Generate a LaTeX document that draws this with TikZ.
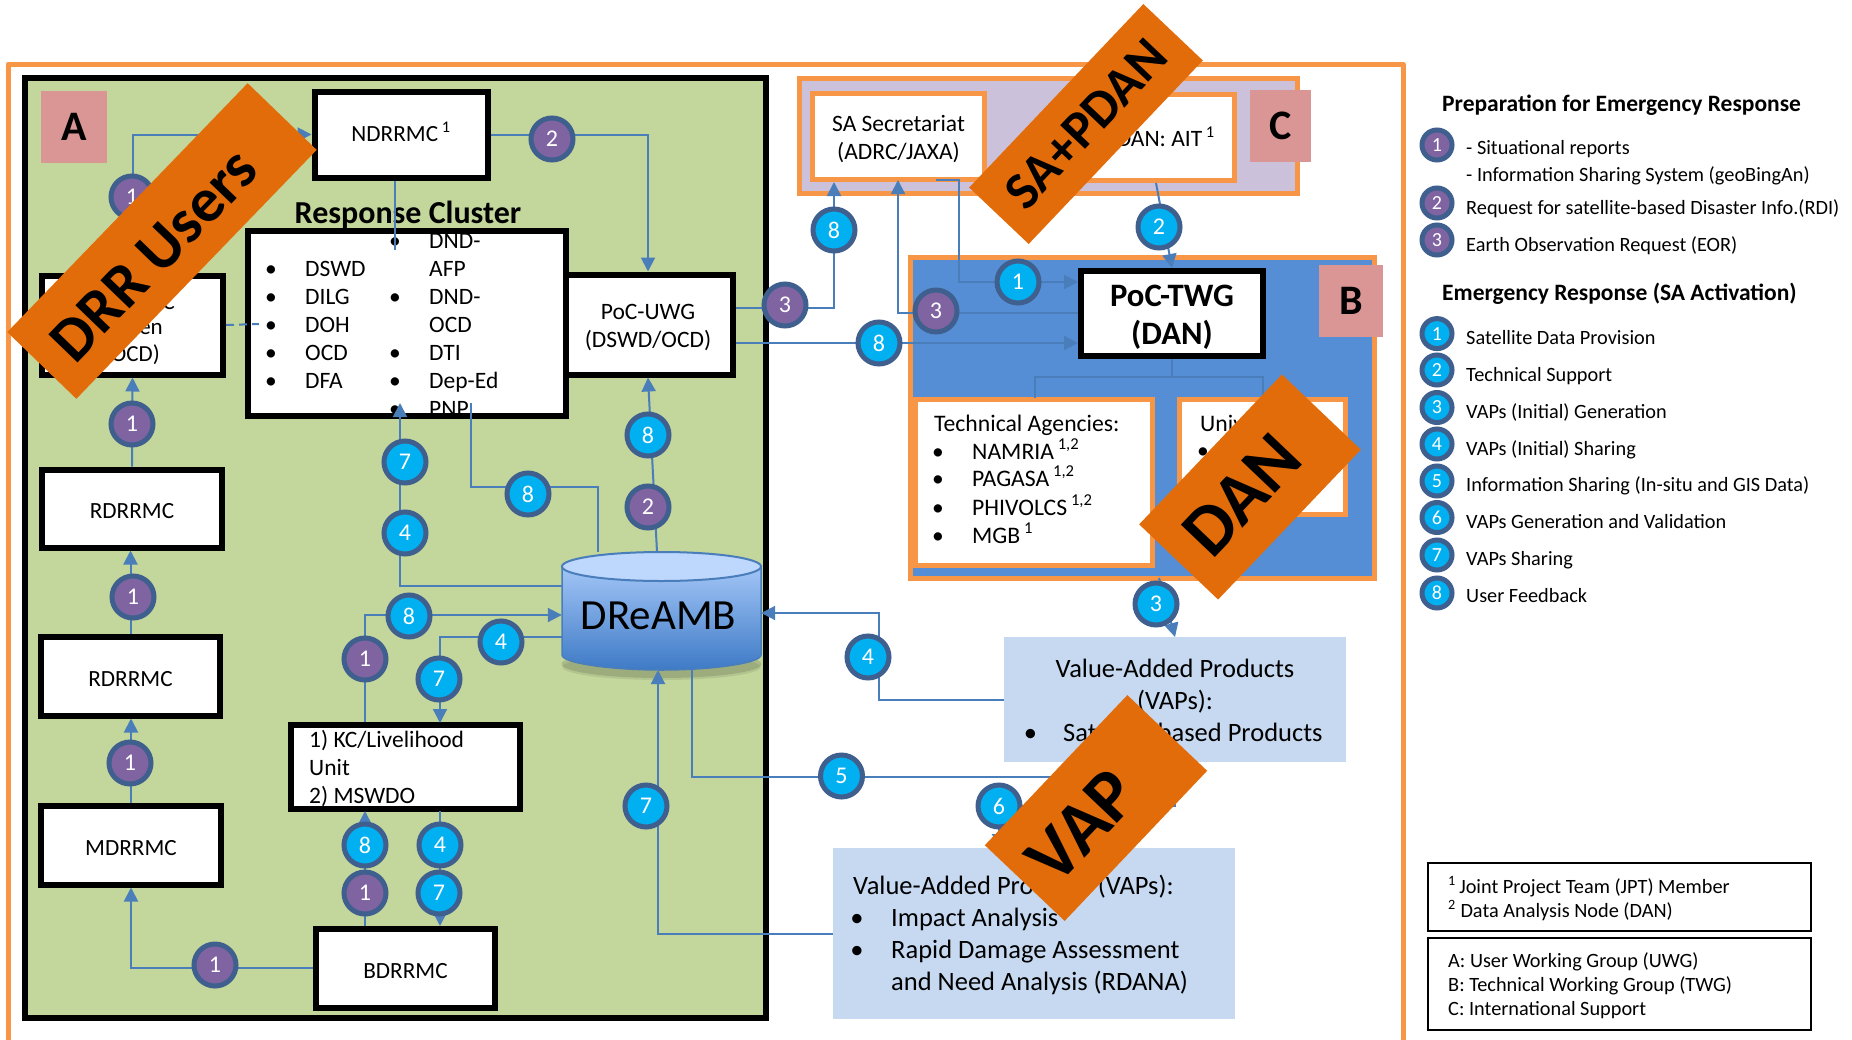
\documentclass[tikz,border=0pt]{standalone}
\usepackage{fontspec}
\setmainfont{Carlito}
\usetikzlibrary{arrows.meta,calc}
\definecolor{orangeline}{HTML}{F79646}
\definecolor{panelgreen}{HTML}{C3D69B}
\definecolor{pinklabel}{HTML}{D99694}
\definecolor{lilac}{HTML}{CCC1DA}
\definecolor{midblue}{HTML}{558ED5}
\definecolor{paleblue}{HTML}{C6D9F1}
\definecolor{lineblue}{HTML}{4A7EBB}
\definecolor{ringblue}{HTML}{3F5F8E}
\definecolor{purplefill}{HTML}{8064A2}
\definecolor{cyanfill}{HTML}{00B0F0}
\definecolor{bannerorange}{HTML}{E36C0A}
\definecolor{cyltop}{HTML}{A3C6F7}
\definecolor{cylbot}{HTML}{3E7AC6}
\definecolor{cylcap}{HTML}{BED7FD}
\newcommand{\fs}[1]{\fontsize{#1}{#1}\selectfont}
\tikzset{
  x=1pt,y=-1pt,
  wbox/.style={draw=black,line width=6pt,fill=white,inner sep=0pt,align=center,font=\fs{23.2}},
  lower/.style={text height=20pt,text depth=0pt},
  obox/.style={draw=orangeline,line width=5pt,fill=white,inner sep=0pt},
  tagbox/.style={fill=pinklabel,inner sep=0pt,font=\bfseries\fs{42}},
  con/.style={draw=lineblue,line width=2pt},
  arr/.style={con,-{Triangle[width=14pt,length=14pt]}},
  pbadge/.style={circle,draw=ringblue,line width=5pt,fill=purplefill,text=white,minimum size=42pt,inner sep=0pt,font=\fs{24}},
  cbadge/.style={circle,draw=ringblue,line width=5pt,fill=cyanfill,text=white,minimum size=42pt,inner sep=0pt,font=\fs{24}},
  lpbadge/.style={pbadge,minimum size=30pt,font=\fs{20}},
  lcbadge/.style={cbadge,minimum size=30pt,font=\fs{20}},
  t23/.style={inner sep=0pt,anchor=west,font=\fs{23.5},text height=18pt,text depth=2pt},
  t24/.style={inner sep=0pt,anchor=west,font=\fs{26.5},text height=19.5pt,text depth=2.5pt},
  t19/.style={inner sep=0pt,anchor=west,font=\fs{20.3},text height=15pt,text depth=2pt},
  th/.style={inner sep=0pt,anchor=west,font=\bfseries\fs{23.5},text height=19pt,text depth=3pt},
  mltext/.style={inner sep=0pt,align=center},
  banner/.style={fill=bannerorange,inner sep=0pt},
}
\begin{document}
\begin{tikzpicture}
\useasboundingbox (0,0) rectangle (1852,1039);
\clip (0,0) rectangle (1852,1039);
% frames
\draw[orangeline,line width=5pt,line join=round] (8,1050) -- (8,64) -- (1403,64) -- (1403,1050);
\node[draw=black,fill=panelgreen,line width=6pt,minimum width=741pt,minimum height=940pt,inner sep=0pt] (panelA) at (395.5,548) {};
\node[tagbox,minimum width=66pt,minimum height=72pt] (tagA) at (74,127) {A};
\node[draw=orangeline,fill=lilac,line width=5pt,minimum width=498pt,minimum height=115pt,inner sep=0pt] (panelC) at (1048.5,136) {};
\node[draw=orangeline,fill=midblue,line width=5pt,minimum width=464pt,minimum height=321pt,inner sep=0pt] (panelB) at (1142.5,418) {};
% left column boxes
\node[wbox,minimum width=181pt,minimum height=99pt] (ocdbox) at (132.5,325) {};
\node[inner sep=0pt,anchor=east,font=\fs{23}] (ocdc) at (175,302) {C};
\node[inner sep=0pt,anchor=east,font=\fs{23}] (ocde) at (163,329) {en};
\node[inner sep=0pt,anchor=east,font=\fs{23}] (ocdo) at (160,355) {OCD)};
\node[wbox,lower,minimum width=180pt,minimum height=78pt] (rd1) at (132,508.5) {RDRRMC};
\node[wbox,lower,minimum width=179pt,minimum height=79pt] (rd2) at (130.5,676) {RDRRMC};
\node[wbox,lower,minimum width=180pt,minimum height=79pt] (md) at (131,845) {MDRRMC};
\node[wbox,lower,minimum width=179pt,minimum height=79pt] (bd) at (405.5,968) {BDRRMC};
\node[wbox,text height=14pt,text depth=0pt,minimum width=173pt,minimum height=86pt] (nd) at (401,134.5) {NDRRMC\textsuperscript{ 1}};
% cluster
\node[wbox,minimum width=170pt,minimum height=100pt] (uwg) at (648,324.5) {};
\node[mltext,font=\fs{23.5},execute at begin node={\baselineskip=28pt}] (uwgt) at (648,327) {PoC-UWG\\(DSWD/OCD)};
\node[inner sep=0pt,font=\bfseries\fs{32}] (clustertitle) at (408,215) {Response Cluster};
\node[draw=black,fill=white,line width=6pt,minimum width=318pt,minimum height=185pt,inner sep=0pt] (cluster) at (407,323) {};
\foreach \n/\t/\y in {a/DSWD/268,b/DILG/296,c/DOH/324,d/OCD/352,e/DFA/380}{
  \node[t23,anchor=center] (lb\n) at (271,\y) {•};
  \node[t23] (lt\n) at (305,\y) {\t};
}
\foreach \n/\t/\y in {a/DND-/240,c/DND-/296,e/DTI/352,f/Dep-Ed/380,g/PNP/408}{
  \node[t23,anchor=center] (rb\n) at (395,\y) {•};
  \node[t23] (rt\n) at (429,\y) {\t};
}
\node[t23] (rtb) at (429,268) {AFP};
\node[t23] (rtd) at (429,324) {OCD};
% KC
\node[wbox,minimum width=229pt,minimum height=84pt] (kc) at (405.5,766.5) {};
\node[t23] (kc1) at (309,739) {1) KC/Livelihood};
\node[t23] (kc2) at (309,767) {Unit};
\node[t23] (kc3) at (309,795) {2) MSWDO};
% DReAMB
\fill[black,opacity=.12] (661.5,664) ellipse (100 and 14);
\fill[black,opacity=.08] (661.5,667) ellipse (99 and 13);
\path[draw=lineblue,line width=1.5pt,top color=cyltop,bottom color=cylbot]
  (562,566) -- (562,655) .. controls (562,663) and (610,670) .. (661.5,670) .. controls (713,670) and (761,663) .. (761,655) -- (761,566) -- cycle;
\draw[lineblue,line width=2pt,fill=cylcap] (661.5,566.5) ellipse (99.5 and 14.5);
\node[inner sep=0pt,minimum width=199pt,minimum height=118pt] (dreamb) at (661.5,611) {};
\node[inner sep=0pt,font=\fs{43}] (dreambt) at (658.5,616) {DReAMB};
% right-hand boxes
\node[obox,minimum width=172pt,minimum height=86pt] (sa) at (898.5,136.5) {};
\node[mltext,font=\fs{23.5},execute at begin node={\baselineskip=28pt}] (sat) at (898.5,139) {SA Secretariat\\(ADRC/JAXA)};
\node[obox,minimum width=154pt,minimum height=86pt] (pdan) at (1157.5,137.5) {};
\node[inner sep=0pt,anchor=east,font=\fs{23.5}] (pdantxt) at (1215,137) {PDAN: AIT\textsuperscript{ 1}};
\node[tagbox,minimum width=61pt,minimum height=72pt] (tagC) at (1280.5,126) {C};
\node[tagbox,minimum width=64pt,minimum height=72pt] (tagB) at (1351,301) {B};
\node[draw=black,fill=white,line width=6pt,minimum width=182pt,minimum height=85pt,inner sep=0pt] (twg) at (1172,313.5) {};
\node[mltext,font=\bfseries\fs{32.7},execute at begin node={\baselineskip=38pt}] (twgt) at (1172,317) {PoC-TWG\\(DAN)};
\node[obox,minimum width=237pt,minimum height=166pt] (tech) at (1034,482.5) {};
\node[t23,font=\fs{23.7}] (techt) at (934,423) {Technical Agencies:};
\foreach \n/\t/\y in {a/NAMRIA\textsuperscript{ 1,2}/451,b/PAGASA\textsuperscript{ 1,2}/478,c/PHIVOLCS\textsuperscript{ 1,2}/507,d/MGB\textsuperscript{ 1}/535}{
  \node[t23,anchor=center] (tb\n) at (938,\y) {•};
  \node[t23,font=\fs{23.7}] (tt\n) at (972,\y) {\t};
}
\node[obox,minimum width=166pt,minimum height=115pt] (univ) at (1262.5,457) {};
\node[t23,font=\fs{23.7}] (univt) at (1200,423) {Universities:};
\node[t23,anchor=center] (univb) at (1203,450) {•};
% VAP boxes
\node[fill=paleblue,inner sep=0pt,minimum width=342pt,minimum height=125pt] (vap1) at (1175,699.5) {};
\node[t24,anchor=center] (vap1a) at (1175,669) {Value-Added Products};
\node[t24,anchor=center] (vap1b) at (1175,701) {(VAPs):};
\node[t24,anchor=center] (vap1c) at (1030.5,733) {•};
\node[t24] (vap1d) at (1063,733) {Satellite-based Products};
\node[fill=paleblue,inner sep=0pt,minimum width=402pt,minimum height=171pt] (vap2) at (1034,933.5) {};
\node[t24] (vap2a) at (853,886) {Value-Added Products (VAPs):};
\node[t24,anchor=center] (vap2b) at (857,918) {•};
\node[t24] (vap2c) at (891,918) {Impact Analysis};
\node[t24,anchor=center] (vap2d) at (857,950) {•};
\node[t24] (vap2e) at (891,950) {Rapid Damage Assessment};
\node[t24] (vap2f) at (891,982) {and Need Analysis (RDANA)};
% badge positions
\foreach \n/\x/\y in {p1/132/197,p2/552/139,p3/132/424,p4/648/507,p5/785/305,p6/936/311,p7/133/597,p8/130/763,p9/365/659,p10/365/893,p11/215/965,c1/648/435,c2/405/462,c3/405/533,c4/528/494,c5/834/230,c6/1018/282,c7/879/343,c8/1159/227,c9/409/616,c10/501/642,c11/439/679,c12/365/845,c13/440/845,c14/439/893,c15/646/806,c16/868/657,c17/1156/604,c18/841.5/776,c19/999/806}{
  \coordinate (\n) at (\x,\y);
}
\coordinate (dashend) at (259,324);
% connectors
\draw[arr] (rd1.north) -- (ocdbox.south);
\draw[arr] (rd2.north) -- (rd2.north |- rd1.south);
\draw[arr] (md.north) -- (md.north |- rd2.south);
\draw[arr] (bd.west) -| (md.south);
\draw[arr] (ocdbox.north) |- (nd.west);
\draw[arr] (nd.east) -| (uwg.north);
\draw[con] (nd.south -| rba) -- (rba |- 0,250);
\draw[con,dash pattern=on 8pt off 5pt] (ocdbox.east) -- (dashend);
\draw[arr] (dreamb.west |- 0,586) -| (400,403);
\draw[con] (471,403) |- (598,487) -- (dreamb.north -| 598,0);
\draw[arr] (657,552) -- (uwg.south);
\draw[arr] (uwg.east |- 0,308) -| (sa.south -| c5);
\draw[arr] (uwg.east |- c7) -- (twg.west |- c7);
\draw[arr] (twg.west |- 0,313) -| (898,180);
\draw[arr] (936,180) -- (959,180) |- (twg.west |- c6);
\draw[arr] (pdan.south -| 1156,0) -- (twg.north);
\draw[con] (twg.south) -- (twg.south |- 0,377);
\draw[con] (1035,398) |- (1262.5,377) -- (1262.5,398);
\draw[arr] (1159,578) -- (1175,637);
\draw[arr] (vap1.west) -| (879,613) -- (dreamb.east |- 0,613);
\draw[con] (692,670) |- (1176,777);
\draw[arr] (vap1.south) |- (c19) -- (999,848);
\draw[arr] (vap2.west) -| (658,670);
\draw[arr] (365,722) -- (365,615) -- (dreamb.west |- 0,615);
\draw[arr] (dreamb.west |- 0,637) -| (440,723);
\draw[arr] (365,926) -- (365,811);
\draw[arr] (440,811) -- (440,926);
% badges
\foreach \n/\t in {p1/1,p2/2,p3/1,p4/2,p5/3,p6/3,p7/1,p8/1,p9/1,p10/1,p11/1}{
  \node[pbadge] (b\n) at (\n) {\t};
}
\foreach \n/\t in {c1/8,c2/7,c3/4,c4/8,c5/8,c6/1,c7/8,c8/2,c9/8,c10/4,c11/7,c12/8,c13/4,c14/7,c15/7,c16/4,c17/3,c18/5,c19/6}{
  \node[cbadge] (b\n) at (\n) {\t};
}
% banners
\node[banner,rotate=46,minimum width=346pt,minimum height=96pt] (bnA) at (162,241) {};
\node[inner sep=0pt,rotate=46,font=\bfseries\fs{62.5}] (bnAt) at (154,255) {DRR Users};
\node[banner,rotate=46.5,minimum width=253pt,minimum height=82pt] (bnC) at (1086,124) {};
\node[inner sep=0pt,rotate=46.5,font=\bfseries\fs{53}] (bnCt) at (1086,124) {SA+PDAN};
\node[banner,rotate=46.4,minimum width=207pt,minimum height=109pt] (bnB) at (1250,487) {};
\node[inner sep=0pt,rotate=46.4,font=\bfseries\fs{72.5}] (bnBt) at (1242,495) {DAN};
\node[banner,rotate=46.5,minimum width=207pt,minimum height=110pt] (bnV) at (1096,808) {};
\node[inner sep=0pt,rotate=46.5,font=\bfseries\fs{74}] (bnVt) at (1082,826) {VAP};
% legend
\node[th] (h1) at (1442,103) {Preparation for Emergency Response};
\node[lpbadge] (l1) at (1437,145) {1};
\node[lpbadge] (l2) at (1437,203) {2};
\node[lpbadge] (l3) at (1437,240) {3};
\node[t19] (lt1) at (1466,148) {- Situational reports};
\node[t19] (lt1b) at (1466,175) {- Information Sharing System (geoBingAn)};
\node[t19] (lt2) at (1466,208) {Request for satellite-based Disaster Info.(RDI)};
\node[t19] (lt3) at (1466,245) {Earth Observation Request (EOR)};
\node[th] (h2) at (1442,292.5) {Emergency Response (SA Activation)};
\foreach \n/\t/\y/\w in {1/Satellite Data Provision/333.6/338,2/Technical Support/370/375,3/VAPs (Initial) Generation/407.5/412,4/VAPs (Initial) Sharing/444/448.6,5/Information Sharing (In-situ and GIS Data)/481/485,6/VAPs Generation and Validation/517.5/522,7/VAPs Sharing/555/559,8/User Feedback/593/596}{
  \node[lcbadge] (m\n) at (1437,\y) {\n};
  \node[t19] (mt\n) at (1466,\w) {\t};
}
% notes
\node[draw=black,line width=2pt,minimum width=383pt,minimum height=68pt,inner sep=0pt] (note1) at (1619.5,897) {};
\node[draw=black,line width=2pt,minimum width=383pt,minimum height=92pt,inner sep=0pt] (note2) at (1619.5,984) {};
\node[t19] (n1) at (1448,887) {\textsuperscript{1}\,Joint Project Team (JPT) Member};
\node[t19] (n2) at (1448,911) {\textsuperscript{2} Data Analysis Node (DAN)};
\node[t19] (n3) at (1448,961) {A: User Working Group (UWG)};
\node[t19] (n4) at (1448,985) {B: Technical Working Group (TWG)};
\node[t19] (n5) at (1448,1009) {C: International Support};
\end{tikzpicture}
\end{document}
